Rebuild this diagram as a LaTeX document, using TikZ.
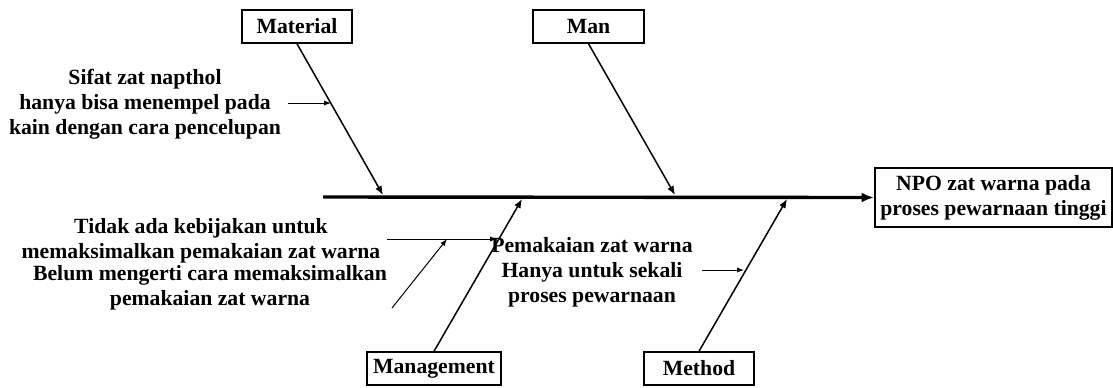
\documentclass[tikz,border=0pt]{standalone}
\usepackage{fontspec}
\setmainfont{Liberation Serif}
\usetikzlibrary{arrows.meta}
\begin{document}
\begin{tikzpicture}[x=0.5pt,y=-0.5pt,
		font=\fontsize{10.85}{12.4}\selectfont\bfseries,
		box/.style={draw, line width=0.75pt, minimum height=16.5pt, inner sep=0pt},
		bone/.style={line width=0.75pt, -{Latex[length=4.5pt,width=3.6pt]}},
		twig/.style={line width=0.5pt, -{Latex[length=3.5pt,width=2.6pt]}},
		cause/.style={align=center, inner sep=0pt}]
	\useasboundingbox (0,0) rectangle (1113,387);
	
	\node[box, minimum width=55pt] (mat) at (297,26.5) {Material};
	\node[box, minimum width=55.5pt] (man) at (588.5,26.5) {Man};
	\node[box, minimum width=67pt] (mgt) at (434,368.5) {Management};
	\node[box, minimum width=55pt] (met) at (699,368.5) {Method};
	\node[draw, line width=1.3pt, minimum width=118.5pt, minimum height=29.5pt, align=center, inner sep=0pt] (npo) at (993.5,197.5) {NPO zat warna pada\\proses pewarnaan tinggi};
	
	\coordinate (tail) at (323,197);
	\draw[line width=1.7pt, -{Latex[length=6pt,width=5pt]}] (tail) -- (npo.west);
	
	\coordinate (matend) at (383,195);
	\coordinate (manend) at (675,195);
	\coordinate (mgtend) at (522,199);
	\coordinate (metend) at (787,199);
	\draw[bone] (mat.south) -- (matend);
	\draw[bone] (man.south) -- (manend);
	\draw[bone] (mgt.north) -- (mgtend);
	\draw[bone] (met.north) -- (metend);
	
	\node[cause] (sifat) at (145,104) {Sifat zat napthol\\hanya bisa menempel pada\\kain dengan cara pencelupan};
	\node[cause] (tidak) at (201,241) {Tidak ada kebijakan untuk\\memaksimalkan pemakaian zat warna};
	\node[cause] (belum) at (210,288) {Belum mengerti cara memaksimalkan\\pemakaian zat warna};
	\node[cause] (pakai) at (592,272) {Pemakaian zat warna\\Hanya untuk sekali\\proses pewarnaan};
	
	\coordinate (s1) at (288,103); \coordinate (s2) at (331,103);
	\coordinate (t1) at (387,239); \coordinate (t2) at (497,239);
	\coordinate (b1) at (392,308); \coordinate (b2) at (447,239);
	\coordinate (p1) at (702,270); \coordinate (p2) at (744,270);
	\draw[twig] (s1) -- (s2);
	\draw[twig] (t1) -- (t2);
	\draw[twig] (b1) -- (b2);
	\draw[twig] (p1) -- (p2);
\end{tikzpicture}
\end{document}
